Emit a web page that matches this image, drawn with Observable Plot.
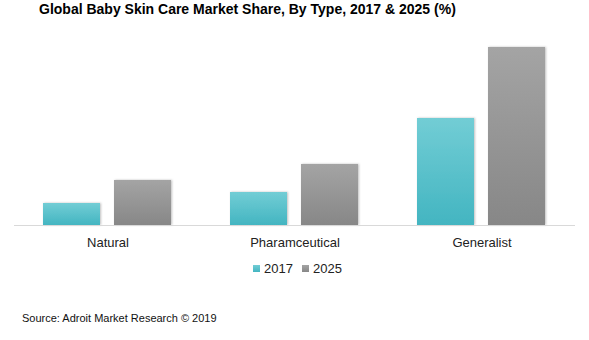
<!DOCTYPE html>
<html>
<head>
<meta charset="utf-8">
<script src="https://cdn.jsdelivr.net/npm/d3@7"></script>
<script src="https://cdn.jsdelivr.net/npm/@observablehq/plot@0.6"></script>
<style>
  body { margin: 0; background: #fff; font-family: "Liberation Sans", Arial, sans-serif; }
  #wrap { position: relative; width: 589px; height: 340px; overflow: hidden; }
  #title { position: absolute; left: 39px; top: 1px; font-size: 14px; font-weight: bold; color: #000; white-space: nowrap; }
  #chart { position: absolute; left: 0; top: 28px; }
  #legend { position: absolute; left: 0; top: 259px; width: 589px; font-size: 13px; color: #222; }
  .sw { position: absolute; top: 0; display: flex; align-items: center; height: 18px; }
  .sq { width: 7px; height: 7px; margin-right: 4px; }
  #source { position: absolute; left: 22px; top: 312px; font-size: 11px; color: #111; white-space: nowrap; }
</style>
</head>
<body>
<div id="wrap">
  <div id="title">Global Baby Skin Care Market Share, By Type, 2017 &amp; 2025 (%)</div>
  <div id="chart"></div>
  <div id="legend"></div>
  <div id="source">Source: Adroit Market Research © 2019</div>
</div>
<script>
const categories = ["Natural", "Pharamceutical", "Generalist"];
const years = ["2017", "2025"];
const values2017 = [2.2, 3.3, 10.7];
const values2025 = [4.5, 6.1, 17.8];
const seriesColors = ["#5bc6d0", "#9a9a9a"];

const data = [];
categories.forEach((c, i) => {
  data.push({type: c, year: "2017", value: values2017[i]});
  data.push({type: c, year: "2025", value: values2025[i]});
});

const plot = Plot.plot({
  width: 589,
  height: 227,
  marginLeft: 14,
  marginRight: 14,
  marginTop: 7,
  marginBottom: 30,
  style: {fontFamily: "'Liberation Sans', Arial, sans-serif", fontSize: "13px", color: "#222", background: "#fff"},
  fx: {domain: categories, padding: 0, label: null, tickSize: 0, tickPadding: 12, axis: "bottom"},
  x: {domain: years, axis: null, paddingInner: 0.194, paddingOuter: 0.396},
  y: {domain: [0, 19], axis: null},
  color: {domain: years, range: ["url(#g2017)", "url(#g2025)"]},
  marks: [
    Plot.barY(data, {fx: "type", x: "year", y: "value", fill: "year", style: "filter:url(#shadow)"}),
    Plot.ruleY([0], {stroke: "#d9d9d9", strokeWidth: 1})
  ]
});

const svg = d3.select(plot);
const defs = svg.insert("defs", ":first-child");
const g1 = defs.append("linearGradient").attr("id", "g2017").attr("x1", 0).attr("y1", 0).attr("x2", 0).attr("y2", 1);
g1.append("stop").attr("offset", "0%").attr("stop-color", "#72cdd5");
g1.append("stop").attr("offset", "100%").attr("stop-color", "#43b5c1");
const g2 = defs.append("linearGradient").attr("id", "g2025").attr("x1", 0).attr("y1", 0).attr("x2", 0).attr("y2", 1);
g2.append("stop").attr("offset", "0%").attr("stop-color", "#a4a4a4");
g2.append("stop").attr("offset", "100%").attr("stop-color", "#878787");
const f = defs.append("filter").attr("id", "shadow").attr("x", "-10%").attr("y", "-10%").attr("width", "130%").attr("height", "130%");
f.append("feDropShadow").attr("dx", 1).attr("dy", 0).attr("stdDeviation", 1).attr("flood-color", "#000").attr("flood-opacity", 0.25);
svg.selectAll("g[aria-label='bar'] rect").attr("filter", "url(#shadow)");

document.getElementById("chart").appendChild(plot);

const legend = d3.select("#legend");
const lx = [253, 302];
years.forEach((y, i) => {
  const s = legend.append("div").attr("class", "sw").style("left", lx[i] + "px");
  s.append("div").attr("class", "sq").style("background", `linear-gradient(${i === 0 ? "#72cdd5, #43b5c1" : "#a4a4a4, #878787"})`);
  s.append("span").text(y);
});
</script>
</body>
</html>
